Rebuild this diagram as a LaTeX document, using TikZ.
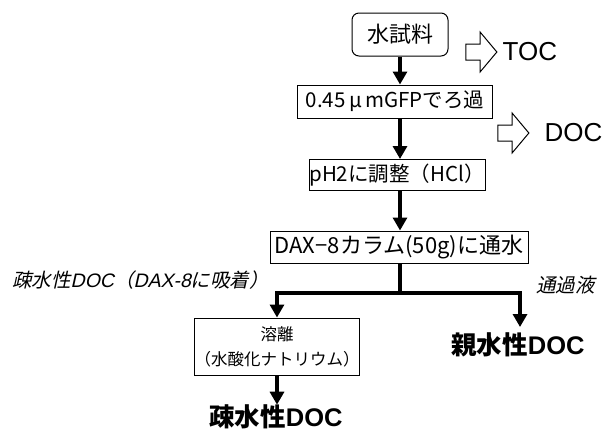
\documentclass[tikz,border=0pt]{standalone}
\usepackage{fontspec}
\setmainfont{Noto Sans CJK JP}
\newfontfamily\cjk{Noto Sans CJK JP}
\newfontfamily\cjkslant[FakeSlant=0.22]{Noto Sans CJK JP}
\newfontfamily\arial{Liberation Sans}
\newfontfamily\arialit[FakeSlant=0.22]{Liberation Sans}
\usetikzlibrary{arrows.meta,shapes.arrows}
\tikzset{
  procbox/.style={draw, line width=1pt, inner sep=0pt, align=center},
  flow/.style={line width=3.2pt, -{Triangle[width=14pt,length=13pt]}},
  flowline/.style={line width=3.2pt},
  hollow/.style={single arrow, draw, line width=1pt, inner sep=7.5pt,
    minimum height=31pt, single arrow head extend=12pt, single arrow tip angle=100},
  bigtext/.style={inner sep=0pt, font=\fontsize{25.5}{28}\selectfont\bfseries},
  sidetext/.style={inner sep=0pt, font=\fontsize{26}{30}\arial},
  note/.style={inner sep=0pt, font=\fontsize{19.5}{22}\cjkslant}
}
\begin{document}
\begin{tikzpicture}[x=1pt,y=1pt]
\useasboundingbox (0,0) rectangle (604,-432);
\node[procbox, rounded corners=7pt, minimum width=96pt, minimum height=43pt,
  font=\fontsize{22}{24}\selectfont] (n1) at (400,-34.5) {水試料};
\node[procbox, minimum width=195pt, minimum height=33pt,
  font=\fontsize{20.5}{24}\selectfont] (n2) at (395,-101.5) {0.45\,μ\,mGFPでろ過};
\node[procbox, minimum width=176pt, minimum height=31pt,
  font=\fontsize{20.5}{24}\selectfont] (n3) at (397,-175) {pH2に調整（HCl）};
\node[procbox, minimum width=258pt, minimum height=32pt,
  font=\fontsize{22}{24}\selectfont] (n4) at (399,-247) {DAX−8カラム(50g)に通水};
\node[procbox, minimum width=162pt, minimum height=57pt,
  font=\fontsize{16.5}{25}\selectfont] (n5) at (277,-346.5) {溶離\\（水酸化ナトリウム）};
\node[bigtext] (hydrophobic) at (276,-417) {疎水性{\arial DOC}};
\node[bigtext] (hydrophilic) at (518,-345) {親水性{\arial DOC}};
\node[hollow] (a1) at (478,-52) {};
\node[hollow] (a2) at (510,-133) {};
\node[sidetext, anchor=west] (toc) at ([xshift=5pt]a1.east) {TOC};
\node[sidetext, anchor=west] (doc) at ([xshift=15pt]a2.east) {DOC};
\node[note, anchor=west] (l1) at (12,-280) {疎水性{\arialit DOC}（{\arialit DAX-8}に吸着）};
\node[note, anchor=west] (l2) at (536,-285) {通過液};
\coordinate (split) at (400,-293);
\coordinate (sl) at (n5.north |- split);
\coordinate (sr) at (520,-293);
\draw[flow] (n1.south -| 400,0) -- (n2.north -| 400,0);
\draw[flow] (n2.south -| 400,0) -- (n3.north -| 400,0);
\draw[flow] (n3.south -| 400,0) -- (n4.north -| 400,0);
\draw[flowline] (n4.south -| split) -- (split);
\draw[flow] ([xshift=-1.6pt]sr) -- (sl) -- (n5.north);
\draw[flow] ([xshift=-1.6pt]sl) -- (sr) -- ([yshift=-327pt]sr |- 0,0);
\draw[flow] (n5.south) -- (n5.south |- hydrophobic.north);
\end{tikzpicture}
\end{document}
